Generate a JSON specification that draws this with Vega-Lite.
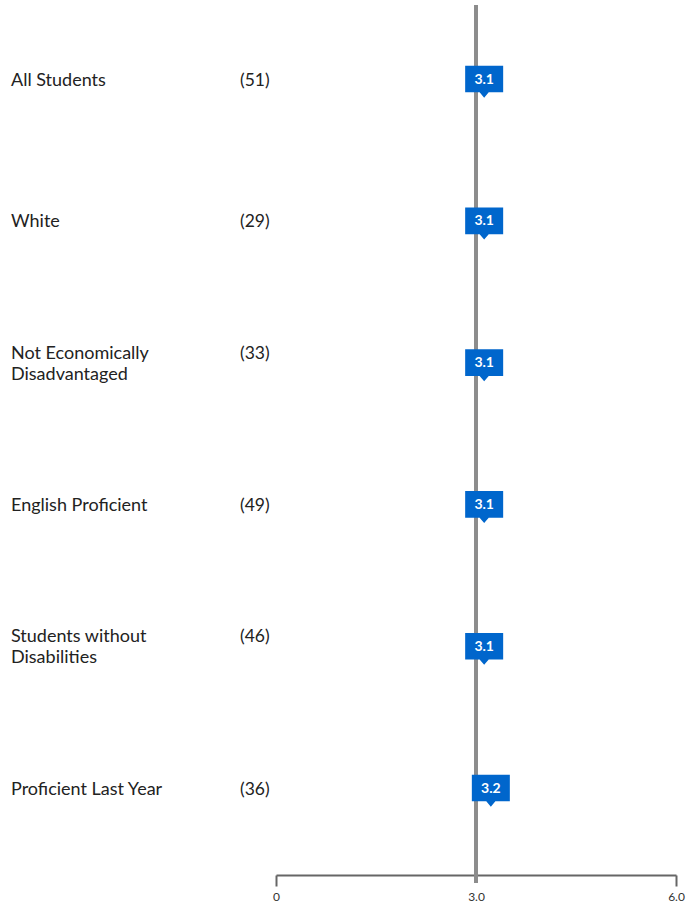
{
  "$schema": "https://vega.github.io/schema/vega-lite/v6.json",
  "autosize": "none",
  "width": 400,
  "height": 878,
  "padding": {"left": 276, "top": 5, "right": 21, "bottom": 22},
  "background": "white",
  "config": {"view": {"stroke": null}, "font": "Lato"},
  "data": {
    "values": [
      {"group": "All Students", "label": ["All Students"], "lines": 1, "count": "(51)", "value": 3.1, "order": 1},
      {"group": "White", "label": ["White"], "lines": 1, "count": "(29)", "value": 3.1, "order": 2},
      {"group": "Not Economically Disadvantaged", "label": ["Not Economically", "Disadvantaged"], "lines": 2, "count": "(33)", "value": 3.1, "order": 3},
      {"group": "English Proficient", "label": ["English Proficient"], "lines": 1, "count": "(49)", "value": 3.1, "order": 4},
      {"group": "Students without Disabilities", "label": ["Students without", "Disabilities"], "lines": 2, "count": "(46)", "value": 3.1, "order": 5},
      {"group": "Proficient Last Year", "label": ["Proficient Last Year"], "lines": 1, "count": "(36)", "value": 3.2, "order": 6}
    ]
  },
  "encoding": {
    "y": {
      "field": "group",
      "type": "nominal",
      "sort": {"field": "order"},
      "scale": {"type": "point", "padding": 0.596, "align": 0.438},
      "axis": null
    }
  },
  "layer": [
    {
      "mark": {"type": "rule", "color": "#8c8c8c", "strokeWidth": 3},
      "encoding": {
        "x": {
          "datum": 3,
          "type": "quantitative",
          "scale": {"domain": [0, 6], "nice": false, "zero": false},
          "axis": {
            "orient": "bottom",
            "values": [0, 3, 6],
            "labelExpr": "datum.value == 0 ? '0' : format(datum.value, '.1f')",
            "title": null,
            "grid": false,
            "offset": -8,
            "domainColor": "#666666",
            "domainWidth": 2,
            "tickColor": {"condition": {"test": "datum.value == 3", "value": "transparent"}, "value": "#666666"},
            "tickWidth": 2,
            "tickSize": 11,
            "labelFlush": false,
            "labelOverlap": false,
            "labelFont": "Lato",
            "labelFontSize": 12,
            "labelColor": "#333333",
            "labelPadding": 5
          }
        },
        "y": null
      }
    },
    {
      "mark": {
        "type": "point",
        "shape": "M-1,-0.7L1,-0.7L1,0.7L0.24,0.7L0,0.98L-0.24,0.7L-1,0.7Z",
        "filled": true,
        "opacity": 1,
        "color": "#0066cc",
        "size": 1444,
        "xOffset": 1.5
      },
      "encoding": {
        "x": {"field": "value", "type": "quantitative"}
      }
    },
    {
      "mark": {"type": "text", "color": "white", "fontWeight": "bold", "fontSize": 14, "font": "Lato", "baseline": "middle", "align": "center", "dx": 1.5, "dy": 0.5},
      "encoding": {
        "x": {"field": "value", "type": "quantitative"},
        "text": {"field": "value", "type": "quantitative", "format": ".1f"}
      }
    },
    {
      "transform": [{"filter": "datum.lines == 1"}],
      "mark": {"type": "text", "color": "#222222", "fontSize": 18, "font": "Lato", "align": "left", "baseline": "middle", "lineHeight": 21, "dx": -265, "dy": 1.5},
      "encoding": {
        "x": {"datum": 0, "type": "quantitative"},
        "text": {"field": "label"}
      }
    },
    {
      "transform": [{"filter": "datum.lines == 2"}],
      "mark": {"type": "text", "color": "#222222", "fontSize": 18, "font": "Lato", "align": "left", "baseline": "middle", "lineHeight": 21, "dx": -265, "dy": -9},
      "encoding": {
        "x": {"datum": 0, "type": "quantitative"},
        "text": {"field": "label"}
      }
    },
    {
      "transform": [{"filter": "datum.lines == 1"}],
      "mark": {"type": "text", "color": "#222222", "fontSize": 17.5, "font": "Lato", "align": "left", "baseline": "middle", "dx": -36, "dy": 1.5},
      "encoding": {
        "x": {"datum": 0, "type": "quantitative"},
        "text": {"field": "count"}
      }
    },
    {
      "transform": [{"filter": "datum.lines == 2"}],
      "mark": {"type": "text", "color": "#222222", "fontSize": 17.5, "font": "Lato", "align": "left", "baseline": "middle", "dx": -36, "dy": -9},
      "encoding": {
        "x": {"datum": 0, "type": "quantitative"},
        "text": {"field": "count"}
      }
    }
  ]
}
